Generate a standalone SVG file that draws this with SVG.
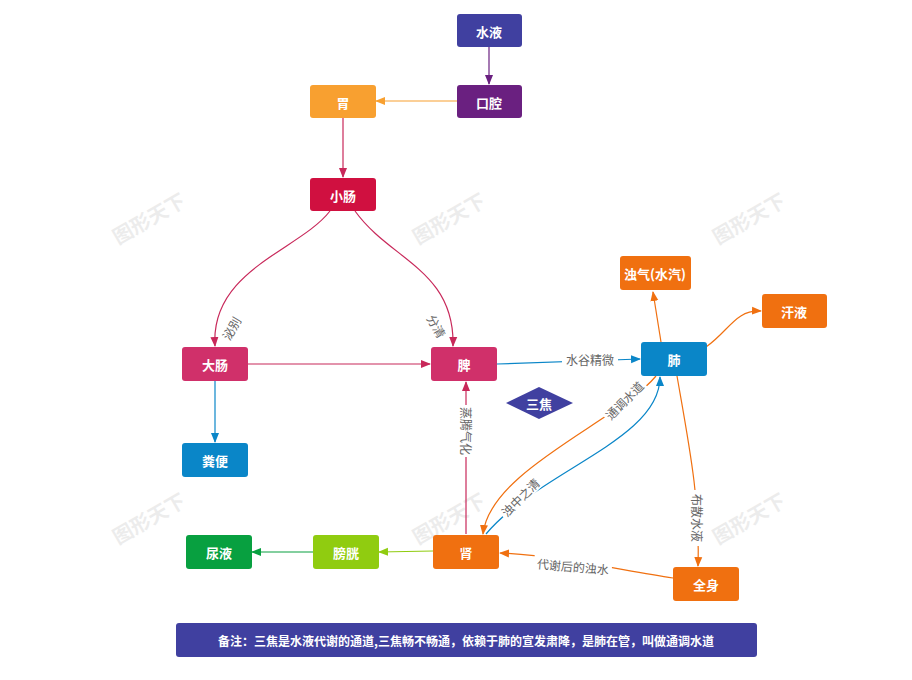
<svg xmlns="http://www.w3.org/2000/svg" width="912" height="680" viewBox="0 0 912 680">
<style>
text{font-family:"Noto Sans CJK SC","Liberation Sans",sans-serif}
.n{font-size:13px;font-weight:bold;fill:#fff;text-anchor:middle;dominant-baseline:central}
.l{font-size:12px;fill:#666;text-anchor:middle;dominant-baseline:central}
.wm{font-size:20px;fill:#000;opacity:0.07;font-weight:bold}
.c{fill:none;stroke-width:1.2}
</style>
<defs>
<marker id="mr" markerWidth="10" markerHeight="10" refX="9" refY="5" orient="auto" markerUnits="userSpaceOnUse"><polygon points="0,1 10,5 0,9" fill="#c8285a"/></marker>
<marker id="mb" markerWidth="10" markerHeight="10" refX="9" refY="5" orient="auto" markerUnits="userSpaceOnUse"><polygon points="0,1 10,5 0,9" fill="#0a86c8"/></marker>
<marker id="mo" markerWidth="10" markerHeight="10" refX="9" refY="5" orient="auto" markerUnits="userSpaceOnUse"><polygon points="0,1 10,5 0,9" fill="#f07010"/></marker>
<marker id="mp" markerWidth="10" markerHeight="10" refX="9" refY="5" orient="auto" markerUnits="userSpaceOnUse"><polygon points="0,1 10,5 0,9" fill="#6a2080"/></marker>
<marker id="my" markerWidth="10" markerHeight="10" refX="9" refY="5" orient="auto" markerUnits="userSpaceOnUse"><polygon points="0,1 10,5 0,9" fill="#f8a030"/></marker>
<marker id="mg" markerWidth="10" markerHeight="10" refX="9" refY="5" orient="auto" markerUnits="userSpaceOnUse"><polygon points="0,1 10,5 0,9" fill="#08a040"/></marker>
<marker id="ml" markerWidth="10" markerHeight="10" refX="9" refY="5" orient="auto" markerUnits="userSpaceOnUse"><polygon points="0,1 10,5 0,9" fill="#90cc10"/></marker>
</defs>
<g>
<text class="wm" transform="translate(118,245) rotate(-30)">图形天下</text>
<text class="wm" transform="translate(418,245) rotate(-30)">图形天下</text>
<text class="wm" transform="translate(718,245) rotate(-30)">图形天下</text>
<text class="wm" transform="translate(118,545) rotate(-30)">图形天下</text>
<text class="wm" transform="translate(418,545) rotate(-30)">图形天下</text>
<text class="wm" transform="translate(718,545) rotate(-30)">图形天下</text>
</g>
<g id="connectors">
<path class="c" d="M489,47 V84" stroke="#6a2080" marker-end="url(#mp)"/>
<path class="c" d="M457,101 H376" stroke="#f8a030" marker-end="url(#my)"/>
<path class="c" d="M343,118 V177" stroke="#c8285a" marker-end="url(#mr)"/>
<path class="c" d="M330,211 C300,250 210,270 215,346" stroke="#c8285a" marker-end="url(#mr)"/>
<path class="c" d="M355,211 C390,260 455,270 453,346" stroke="#c8285a" marker-end="url(#mr)"/>
<text class="l" transform="translate(231,328) rotate(-60)">泌别</text>
<text class="l" transform="translate(437,326) rotate(60)">分清</text>
<path class="c" d="M248,364 H430" stroke="#c8285a" marker-end="url(#mr)"/>
<path class="c" d="M215,381 V442" stroke="#0a86c8" marker-end="url(#mb)"/>
<path class="c" d="M497,364 L640,359" stroke="#0a86c8" marker-end="url(#mb)"/>
<rect x="562" y="351" width="56" height="16" fill="#fff"/>
<text class="l" x="590" y="359">水谷精微</text>
<path class="c" d="M466,534 V382" stroke="#c8285a" marker-end="url(#mr)"/>
<rect x="456" y="405" width="20" height="52" fill="#fff"/>
<text class="l" transform="translate(466,431) rotate(90)">蒸腾气化</text>
<path class="c" d="M656,376 C620,420 490,470 483,534" stroke="#f07010" marker-end="url(#mo)"/>
<path class="c" d="M486,534 C540,470 660,440 660,377" stroke="#0a86c8" marker-end="url(#mb)"/>
<g transform="translate(624,400) rotate(-45)"><rect x="-26" y="-8" width="52" height="16" fill="#fff"/><text class="l">通调水道</text></g>
<g transform="translate(520,497) rotate(-45)"><rect x="-26" y="-8" width="52" height="16" fill="#fff"/><text class="l">浊中之清</text></g>
<path class="c" d="M661,342 L653,292" stroke="#f07010" marker-end="url(#mo)"/>
<path class="c" d="M706,347 C730,330 735,310 761,311" stroke="#f07010" marker-end="url(#mo)"/>
<path class="c" d="M677,376 C690,450 700,500 698,566" stroke="#f07010" marker-end="url(#mo)"/>
<rect x="687" y="490" width="20" height="56" fill="#fff"/>
<text class="l" transform="translate(697,518) rotate(90)">布散水液</text>
<path class="c" d="M673,578 C620,570 560,556 500,553" stroke="#f07010" marker-end="url(#mo)"/>
<rect x="534" y="557" width="78" height="16" fill="#fff" transform="rotate(5,573,565)"/>
<text class="l" transform="translate(573,566) rotate(5)">代谢后的浊水</text>
<path class="c" d="M433,551 L379,552" stroke="#90cc10" marker-end="url(#ml)"/>
<path class="c" d="M313,552 H252" stroke="#08a040" marker-end="url(#mg)"/>
</g>
<g id="n-shuiye"><rect x="457" y="14" width="65" height="33" rx="3" fill="#4040a0"/><text class="n" x="489" y="31">水液</text></g>
<g id="n-kouqiang"><rect x="457" y="85" width="65" height="33" rx="3" fill="#6a2080"/><text class="n" x="489" y="102">口腔</text></g>
<g id="n-wei"><rect x="310" y="85" width="66" height="33" rx="3" fill="#f8a030"/><text class="n" x="343" y="102">胃</text></g>
<g id="n-xiaochang"><rect x="310" y="178" width="66" height="33" rx="3" fill="#d01040"/><text class="n" x="343" y="195">小肠</text></g>
<g id="n-dachang"><rect x="182" y="347" width="66" height="34" rx="3" fill="#d0306a"/><text class="n" x="215" y="364">大肠</text></g>
<g id="n-pi"><rect x="431" y="347" width="66" height="34" rx="3" fill="#d0306a"/><text class="n" x="464" y="364">脾</text></g>
<g id="n-fei"><rect x="641" y="342" width="66" height="34" rx="3" fill="#0a86c8"/><text class="n" x="674" y="359">肺</text></g>
<g id="n-zhuoqi"><rect x="620" y="256" width="71" height="34" rx="3" fill="#f07010"/><text class="n" x="655" y="273">浊气(水汽)</text></g>
<g id="n-hanye"><rect x="762" y="294" width="65" height="34" rx="3" fill="#f07010"/><text class="n" x="794" y="311">汗液</text></g>
<g id="n-sanjiao"><polygon points="506,403 539,387 573,403 539,419" fill="#4040a0"/><text class="n" x="539" y="403">三焦</text></g>
<g id="n-fenbian"><rect x="182" y="443" width="66" height="34" rx="3" fill="#0a86c8"/><text class="n" x="215" y="460">粪便</text></g>
<g id="n-shen"><rect x="433" y="535" width="66" height="34" rx="3" fill="#f07010"/><text class="n" x="466" y="552">肾</text></g>
<g id="n-pangguang"><rect x="313" y="535" width="66" height="34" rx="3" fill="#90cc10"/><text class="n" x="346" y="552">膀胱</text></g>
<g id="n-niaoye"><rect x="186" y="535" width="66" height="34" rx="3" fill="#08a040"/><text class="n" x="219" y="552">尿液</text></g>
<g id="n-quanshen"><rect x="673" y="567" width="66" height="34" rx="3" fill="#f07010"/><text class="n" x="706" y="584">全身</text></g>
<g id="n-note"><rect x="176" y="623" width="581" height="34" rx="3" fill="#4040a0"/><text class="n" x="466" y="640" style="font-size:12px">备注：三焦是水液代谢的通道,三焦畅不畅通，依赖于肺的宣发肃降，是肺在管，叫做通调水道</text></g>
</svg>
